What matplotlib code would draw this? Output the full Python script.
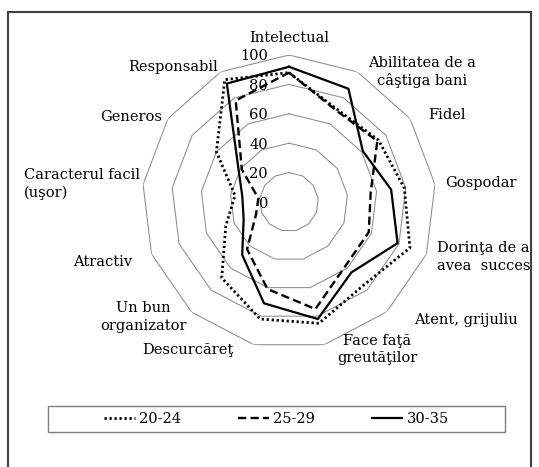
import numpy as np
import matplotlib
matplotlib.use("Agg")
import matplotlib.pyplot as plt
from matplotlib.patches import Rectangle
from matplotlib.lines import Line2D

plt.rcParams['font.family'] = ['DejaVu Serif']
plt.rcParams['font.size'] = 10.5

categories = ['Intelectual', 'Abilitatea de a\ncâştiga bani', 'Fidel', 'Gospodar',
              'Dorinţa de a\navea  succes', 'Atent, grijuliu', 'Face faţă\ngreutăţilor',
              'Descurcăreţ', 'Un bun\norganizator', 'Atractiv',
              'Caracterul facil\n(uşor)', 'Generos', 'Responsabil']
s_20_24 = [88, 71, 74, 79, 88, 76, 85, 82, 69, 46, 37, 60, 94]
s_25_29 = [88, 70, 73, 56, 58, 58, 75, 61, 43, 24, 21, 39, 78]
s_30_35 = [92, 87, 61, 70, 79, 64, 82, 71, 48, 33, 32, 42, 91]
series_names = ['20-24', '25-29', '30-35']
ring_levels = [0, 20, 40, 60, 80, 100]

# label placement (pixels, y up) relative to the outer ring vertex
lab_off = [(0, 17.5), (11, 0), (18, 3.5), (10, 1), (11, -3), (28, -8), (13, -5),
           (-20, -5), (-4.5, -5), (-19.6, -8), (-3, 0), (-6, 1.5), (-2.7, 4.8)]
lab_ha = ['center', 'left', 'left', 'left', 'left', 'left', 'left',
          'right', 'right', 'right', 'right', 'right', 'right']
lab_ma = ['center', 'center', 'left', 'left', 'left', 'left', 'center',
          'right', 'center', 'right', 'left', 'right', 'right']

W, H = 539, 467
fig = plt.figure(figsize=(W / 100, H / 100), dpi=100)

# outer chart frame
fig.patches.append(Rectangle((8 / W, -0.05), 523 / W, 1 - 12 / H + 0.05,
                             transform=fig.transFigure, fill=False,
                             edgecolor='#404040', lw=1.5))

cx, cy, R = 289, 202, 147
ax = fig.add_axes([(cx - R) / W, 1 - (cy + R) / H, 2 * R / W, 2 * R / H],
                  projection='polar')
ax.set_theta_zero_location('N')
ax.set_theta_direction(-1)
ax.set_ylim(0, 100)
ax.grid(False)
ax.set_xticks([])
ax.set_yticks([])
ax.spines['polar'].set_visible(False)
ax.patch.set_alpha(0)

n = len(categories)
theta = np.arange(n) * 2 * np.pi / n
tc = np.append(theta, theta[0])

for lvl in ring_levels[1:]:
    ax.plot(tc, [lvl] * (n + 1), color='#8c8c8c', lw=0.75, zorder=1)

for lvl in ring_levels:
    ax.annotate(str(lvl), xy=(0, lvl), xytext=(-21 * 0.72, -1.5 * 0.72),
                textcoords='offset points', ha='right', va='center')

styles = [dict(ls=(0, (0.8, 1.0)), lw=2.0),
          dict(ls=(0, (3.5, 1.8)), lw=1.7),
          dict(ls='-', lw=1.6)]
for vals, st in zip([s_20_24, s_25_29, s_30_35], styles):
    ax.plot(tc, vals + vals[:1], color='black', zorder=3, **st)

for i, lab in enumerate(categories):
    dx, dy = lab_off[i]
    ax.annotate(lab, xy=(theta[i], 100), xytext=(dx * 0.72, dy * 0.72),
                textcoords='offset points', ha=lab_ha[i], va='center',
                multialignment=lab_ma[i], linespacing=1.3,
                annotation_clip=False)

# legend box
bx0, by0, bx1, by1 = 48, 406, 505, 432
fig.patches.append(Rectangle((bx0 / W, 1 - by1 / H), (bx1 - bx0) / W, (by1 - by0) / H,
                             transform=fig.transFigure, fill=False,
                             edgecolor='#7f7f7f', lw=1.0))
handles = [Line2D([], [], color='black', **st) for st in styles]
fig.legend(handles, series_names, loc='center', ncol=3, frameon=False,
           bbox_to_anchor=((bx0 + bx1) / 2 / W, 1 - (by0 + by1) / 2 / H),
           handlelength=2.1, handletextpad=0.3, columnspacing=3.9)

fig.savefig('out.png', dpi=100)
